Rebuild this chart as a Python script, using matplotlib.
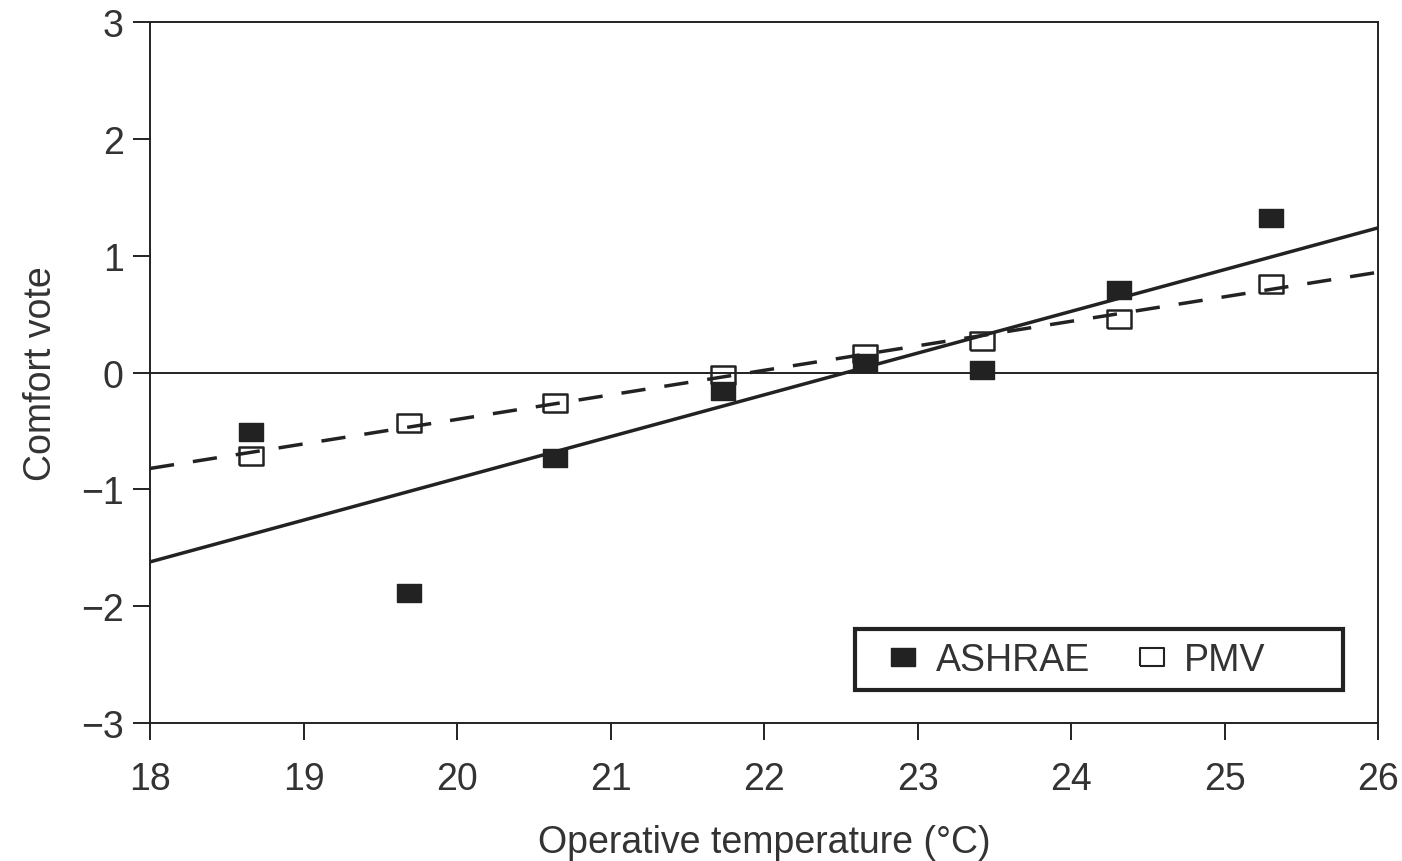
import numpy as np
import matplotlib
matplotlib.use("Agg")
import matplotlib.pyplot as plt
from matplotlib.lines import Line2D
from matplotlib.patches import Rectangle

# operative temperature bins (deg C)
temps = [18.66, 19.69, 20.64, 21.73, 22.66, 23.42, 24.31, 25.30]
ashrae = [-0.51, -1.89, -0.73, -0.16, 0.08, 0.02, 0.71, 1.32]
pmv = [-0.71, -0.43, -0.26, -0.02, 0.16, 0.27, 0.46, 0.76]

# regression lines: (slope, intercept)
ashrae_fit = (0.3575, -8.055)
pmv_fit = (0.21, -4.60)

xticks = [18, 19, 20, 21, 22, 23, 24, 25, 26]
yticks = [-3, -2, -1, 0, 1, 2, 3]
ytick_labels = ['\u22123', '\u22122', '\u22121', '0', '1', '2', '3']

plt.rcParams['font.family'] = ['Liberation Sans', 'DejaVu Sans']
ink = '#222222'
txt = '#333333'
fs = 27

fig = plt.figure(figsize=(14.02, 8.62), dpi=100)
ax = fig.add_axes([0.107, 0.160, 0.876, 0.813])

sq = [(-1.25, -1), (1.25, -1), (1.25, 1), (-1.25, 1), (-1.25, -1)]

xs = np.array([18, 26])
ax.plot(xs, ashrae_fit[0] * xs + ashrae_fit[1], color=ink, lw=2.5, zorder=2)
ax.plot(xs, pmv_fit[0] * xs + pmv_fit[1], color=ink, lw=2.5, dashes=(7, 5.5), zorder=2)
ax.axhline(0, color=ink, lw=1.4, zorder=1)

ax.plot(temps, ashrae, ls='none', marker=sq, ms=17, mfc=ink, mec=ink, zorder=3)
ax.plot(temps, pmv, ls='none', marker=sq, ms=17, mfc='none', mec=ink, mew=1.8, zorder=4)

ax.set_xlim(18, 26)
ax.set_ylim(-3, 3)
ax.set_xticks(xticks)
ax.set_yticks(yticks)
ax.set_yticklabels(ytick_labels)
ax.tick_params(direction='out', length=12, width=1.4, colors=ink, labelcolor=txt,
               labelsize=fs)
ax.tick_params(axis='x', pad=15)
ax.tick_params(axis='y', pad=7)
for s in ax.spines.values():
    s.set_color(ink)
    s.set_linewidth(1.4)

ax.set_xlabel('Operative temperature (\u00b0C)', fontsize=fs, color=txt, labelpad=20)
ax.set_ylabel('Comfort vote', fontsize=fs, color=txt, labelpad=16)

# legend box
ax.add_patch(Rectangle((0.574, 0.047), 0.397, 0.087, transform=ax.transAxes,
                       fill=True, facecolor='white', edgecolor=ink, lw=3, zorder=5))
handles = [
    Line2D([], [], ls='none', marker=sq, ms=17, mfc=ink, mec=ink),
    Line2D([], [], ls='none', marker=sq, ms=17, mfc='none', mec=ink, mew=1.5),
]
leg = ax.legend(handles, ['ASHRAE', 'PMV'], ncol=2, loc='center left',
                bbox_to_anchor=(0.598, 0.0905), fontsize=fs, frameon=False,
                handlelength=1.0, handletextpad=0.36, columnspacing=1.15,
                borderpad=0, borderaxespad=0)
leg.set_zorder(6)
for t in leg.get_texts():
    t.set_color(txt)

fig.savefig('out.png', dpi=100)
